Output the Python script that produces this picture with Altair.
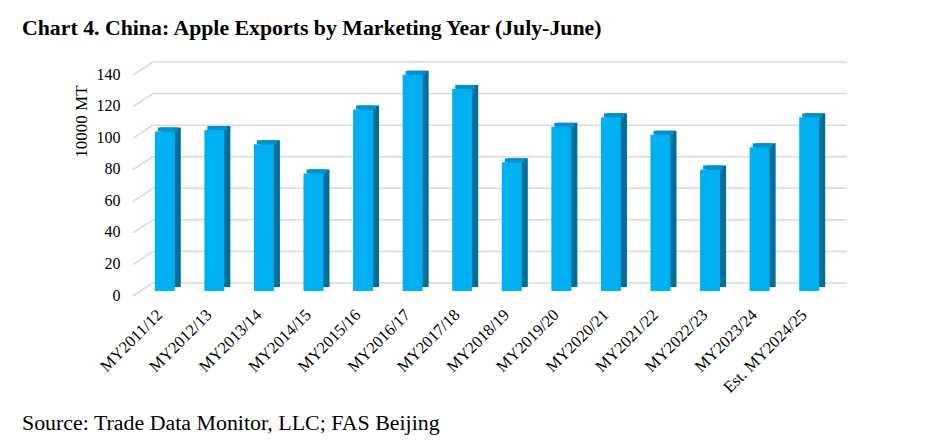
import altair as alt
import pandas as pd

years = ["MY2011/12", "MY2012/13", "MY2013/14", "MY2014/15", "MY2015/16",
         "MY2016/17", "MY2017/18", "MY2018/19", "MY2019/20", "MY2020/21",
         "MY2021/22", "MY2022/23", "MY2023/24", "Est. MY2024/25"]
exports = [101, 102, 93, 74.5, 115, 137, 128, 81.5, 104, 110, 99, 77, 91, 110]
ticks = [0, 20, 40, 60, 80, 100, 120, 140]

title_text = "Chart 4. China: Apple Exports by Marketing Year (July-June)"
source_text = "Source: Trade Data Monitor, LLC; FAS Beijing"

FONT = "Liberation Serif"
W, H = 694, 221

df = pd.DataFrame({"year": years, "value": exports})
grid_df = pd.DataFrame({"value": ticks})
title_df = pd.DataFrame({"s": [title_text]})
src_df = pd.DataFrame({"s": [source_text]})

xenc = alt.X("year:N", sort=years, title=None,
             scale=alt.Scale(paddingInner=0.2, paddingOuter=0.1),
             axis=alt.Axis(labelAngle=-45, labelAlign="right", labelBaseline="middle",
                           labelFont=FONT, labelFontSize=16.5, labelColor="black",
                           labelPadding=21, labelOffset=-5, domain=False, ticks=False,
                           grid=False))
yscale = alt.Scale(domain=[0, 140], nice=False)
yaxis = alt.Axis(values=ticks, title="10000 MT", titleFont=FONT,
                 titleFontSize=17, titleFontWeight="normal", titleColor="black",
                 titleX=-59, titleY=51, titleAngle=-90, titleAlign="center",
                 titleBaseline="middle",
                 labelFont=FONT, labelFontSize=16, labelColor="black",
                 labelPadding=20, labelOffset=4, domain=False, ticks=False,
                 grid=False)
yenc = alt.Y("value:Q", scale=yscale, axis=yaxis, title="10000 MT")

# back-wall gridlines
grid_back = alt.Chart(grid_df).mark_rule(color="#D9D9D9", strokeWidth=1.5, yOffset=-8, y2Offset=-8).encode(
    y=yenc, y2="value:Q",
    x=alt.value(13), x2=alt.value(W + 13),
)
# slanted side-wall segments
grid_side = alt.Chart(grid_df).mark_rule(color="#D9D9D9", strokeWidth=1.5, yOffset=5, y2Offset=-8).encode(
    y=yenc, y2="value:Q",
    x=alt.value(-7), x2=alt.value(13),
)

side = alt.Chart(df).mark_bar(color="#006E9B", size=20, xOffset=6, yOffset=-4, y2Offset=-4).encode(
    x=xenc, y=yenc, y2=alt.datum(0)
)
cap = alt.Chart(df).mark_bar(color="#0092CC", size=20, xOffset=3, yOffset=-4, y2Offset=0).encode(
    x=xenc, y=yenc, y2="value:Q"
)
front = alt.Chart(df).mark_bar(color="#00B0F0", size=20).encode(
    x=xenc, y=yenc, y2=alt.datum(0)
)

title = alt.Chart(title_df).mark_text(font=FONT, fontSize=21.8, fontWeight="bold", align="left",
                                      baseline="alphabetic", color="black").encode(
    text="s:N", x=alt.value(-118), y=alt.value(-35)
)
source = alt.Chart(src_df).mark_text(font=FONT, fontSize=21.9, align="left",
                                     baseline="alphabetic", color="black").encode(
    text="s:N", x=alt.value(-118), y=alt.value(360)
)

chart = alt.layer(grid_back, grid_side, side, cap, front, title, source).properties(
    width=W, height=H,
    background="white",
    autosize=alt.AutoSizeParams(type="none"),
    padding={"left": 132, "top": 62, "right": 102, "bottom": 147},
).configure_view(stroke=None)

chart.save("out.html", embed_options={"renderer": "svg", "actions": False})
